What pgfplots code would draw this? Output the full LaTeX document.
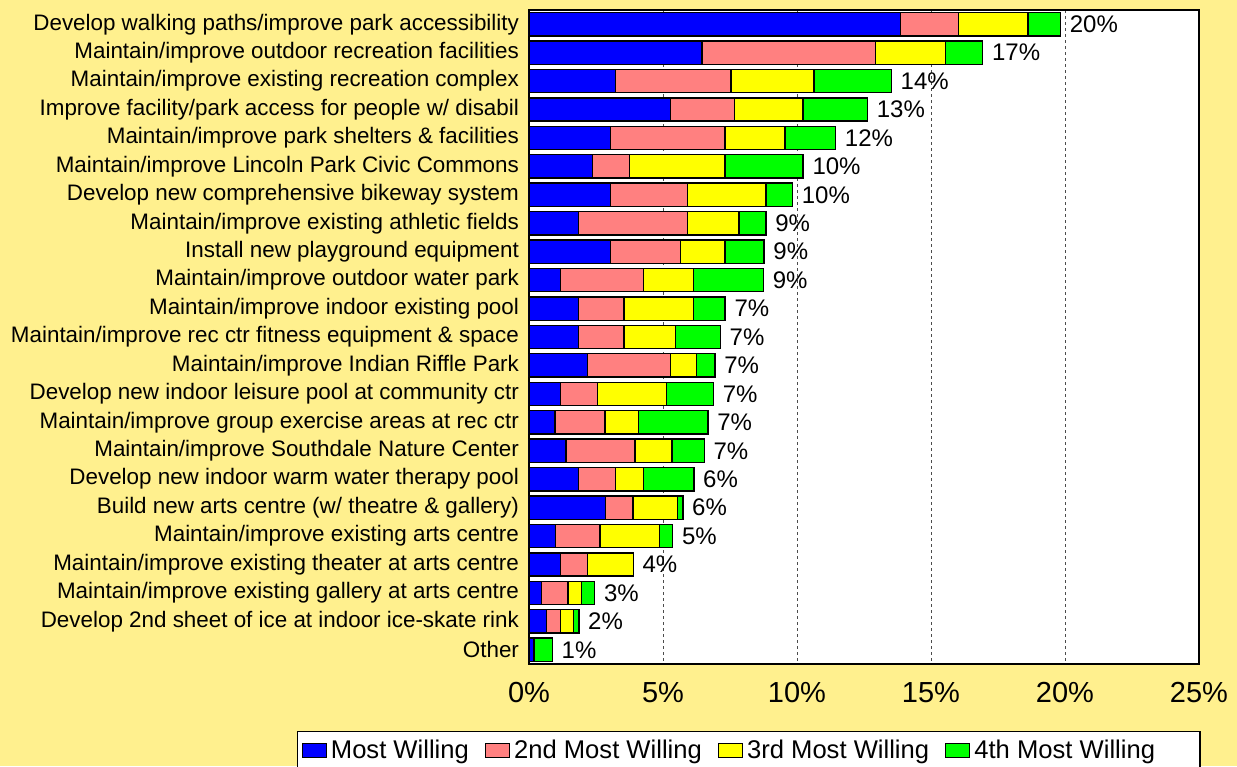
\documentclass[border=0pt]{standalone}
\usepackage{pgfplots}
\usepackage{pgfplotstable}
\pgfplotsset{compat=1.18}
\usepackage{fontspec}
\setmainfont{Liberation Sans}
\definecolor{bgy}{RGB}{255,240,142}
\definecolor{cblue}{RGB}{0,0,255}
\definecolor{cpink}{RGB}{255,128,128}
\definecolor{cyel}{RGB}{255,255,0}
\definecolor{cgreen}{RGB}{0,255,0}

\pgfplotstableread{
y a b c d lab
0 13.86 2.16 2.60 1.21 20
1 6.46 6.46 2.61 1.40 17
2 3.23 4.30 3.10 2.89 14
3 5.27 2.39 2.57 2.40 13
4 3.04 4.28 2.23 1.89 12
5 2.37 1.38 3.57 2.91 10
6 3.04 2.88 2.92 0.99 10
7 1.85 4.07 1.92 1.00 9
8 3.04 2.61 1.67 1.45 9
9 1.18 3.10 1.85 2.62 9
10 1.85 1.69 2.59 1.19 7
11 1.85 1.69 1.92 1.68 7
12 2.18 3.09 0.99 0.68 7
13 1.18 1.37 2.59 1.74 7
14 0.97 1.87 1.24 2.60 7
15 1.38 2.57 1.39 1.20 7
16 1.85 1.38 1.05 1.87 6
17 2.86 1.02 1.66 0.20 6
18 0.98 1.67 2.22 0.49 5
19 1.18 1.00 1.71 0.00 4
20 0.47 0.99 0.51 0.48 3
21 0.66 0.52 0.47 0.21 2
22 0.19 0.00 0.00 0.68 1
}\data

\begin{document}
\begin{tikzpicture}[x=1pt,y=1pt]
\fill[bgy] (0,0) rectangle (618.5,383);
\useasboundingbox (0,0) rectangle (618.5,383);
\begin{axis}[
  at={(264.5pt,51pt)}, anchor=south west,
  width=335pt, height=327pt, scale only axis,
  xbar stacked, bar width=0.82,
  y dir=reverse,
  xmin=0, xmax=25, ymin=-0.5, ymax=22.5,
  xtick={0,5,10,15,20,25},
  xticklabels={0\%,5\%,10\%,15\%,20\%,25\%},
  ytick={0,...,22},
  yticklabels={
    Develop walking paths/improve park accessibility,
    Maintain/improve outdoor recreation facilities,
    Maintain/improve existing recreation complex,
    Improve facility/park access for people w/ disabil,
    Maintain/improve park shelters \& facilities,
    Maintain/improve Lincoln Park Civic Commons\ ,
    Develop new comprehensive bikeway system,
    Maintain/improve existing athletic fields,
    Install new playground equipment\ ,
    Maintain/improve outdoor water park,
    Maintain/improve indoor existing pool,
    Maintain/improve rec ctr fitness equipment \& space,
    Maintain/improve Indian Riffle Park,
    Develop new indoor leisure pool at community ctr,
    Maintain/improve group exercise areas at rec ctr,
    Maintain/improve Southdale Nature Center\ ,
    Develop new indoor warm water therapy pool,
    Build new arts centre (w/ theatre \& gallery),
    Maintain/improve existing arts centre,
    Maintain/improve existing theater at arts centre,
    Maintain/improve existing gallery at arts centre,
    Develop 2nd sheet of ice at indoor ice-skate rink,
    Other\ },
  tick style={draw=none},
  yticklabel style={font=\fontsize{11.2}{13}\selectfont, xshift=-1.5pt},
  xticklabel style={font=\fontsize{14.5}{17}\selectfont, yshift=-5.5pt},
  /pgf/number format/assume math mode=true,
  xmajorgrids,
  major grid style={draw=black!70, line width=0.5pt, dash pattern=on 1.5pt off 1.5pt},
  axis background/.style={fill=white},
  axis line style={line width=1.25pt},
  every axis plot/.append style={draw=black, line width=0.7pt},
  legend columns=4,
  legend style={at={(-0.3463,-0.1024)}, anchor=north west, draw=black, line width=0.75pt,
    fill=white, font=\fontsize{12.8}{15}\selectfont,
    /tikz/every even column/.append style={column sep=6pt},
    inner xsep=2pt},
  legend image code/.code={\draw[#1, line width=0.6pt] (0pt,-3.5pt) rectangle (12pt,3.5pt);},
]
\addplot[fill=cblue] table[x=a,y=y]{\data};
\addplot[fill=cpink] table[x=b,y=y]{\data};
\addplot[fill=cyel] table[x=c,y=y]{\data};
\addplot[fill=cgreen] table[x=d, y=y]{\data};
\addplot[draw=none, fill=none, point meta=explicit symbolic,
  nodes near coords={\pgfplotspointmeta\%},
  every node near coord/.append style={anchor=west, text=black, font=\fontsize{12}{14}\selectfont, xshift=1pt}]
  table[x expr=0.001, y=y, meta=lab]{\data};
\legend{Most Willing, 2nd Most Willing, 3rd Most Willing, 4th Most Willing\hspace*{18.5pt}\mbox{}}
\end{axis}
\end{tikzpicture}
\end{document}
